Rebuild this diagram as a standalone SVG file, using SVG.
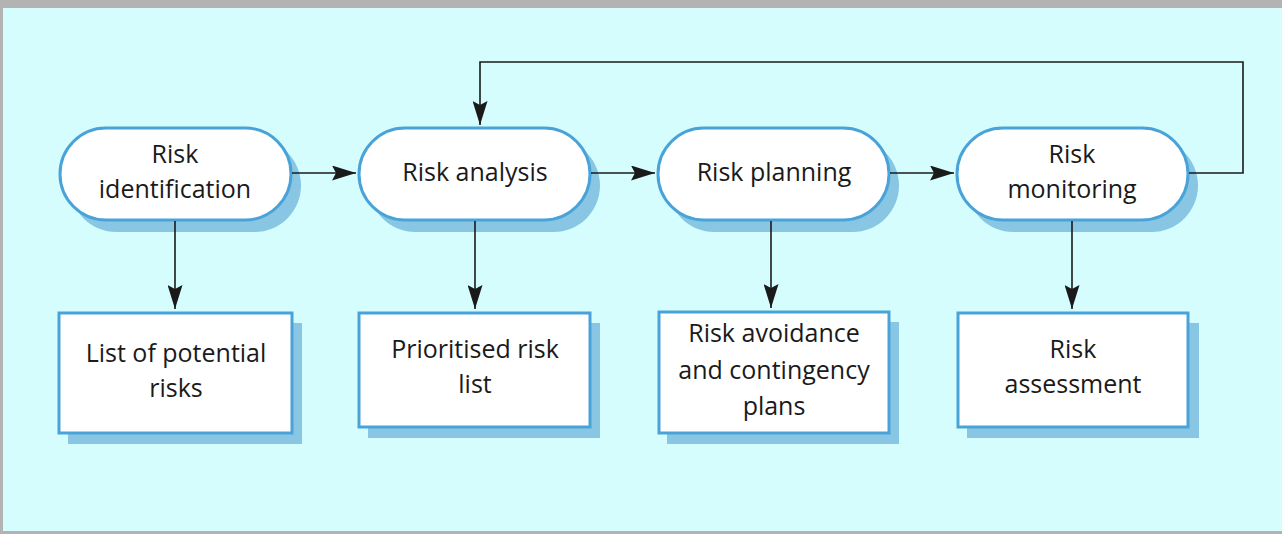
<svg xmlns="http://www.w3.org/2000/svg" width="1282" height="534" viewBox="0 0 1282 534">
<defs>
<style>
.pill{fill:#ffffff;stroke:#4aa3d8;stroke-width:3}
.box{fill:#ffffff;stroke:#4aa3d8;stroke-width:3}
.sh{fill:#88c6e4}
.t{font-family:"Open Sans","Noto Sans",sans-serif;font-size:25px;fill:#1a1a1a;text-anchor:middle}
.c{fill:none;stroke:#1a1a1a;stroke-width:1.6}
</style>
<marker id="ahb" viewBox="0 0 24 15" refX="24" refY="7.5" markerWidth="24" markerHeight="15" markerUnits="userSpaceOnUse" orient="auto">
<path d="M0,0 L24,7.5 L0,15 L4,7.5 Z" fill="#1a1a1a"/>
</marker>
</defs>
<rect x="0" y="0" width="1282" height="534" fill="#b3b3b3"/>
<rect x="3" y="8" width="1279" height="523" fill="#d5fdfd"/>

<g id="n1">
<rect class="sh" x="70" y="139" width="231" height="93" rx="46.5"/>
<rect class="pill" x="60" y="128" width="231" height="92" rx="46"/>
<text class="t" x="175" y="163">Risk</text>
<text class="t" x="175" y="198">identification</text>
</g>
<g id="n2">
<rect class="sh" x="369" y="139" width="231" height="93" rx="46.5"/>
<rect class="pill" x="359" y="128" width="231" height="92" rx="46"/>
<text class="t" x="475" y="181">Risk analysis</text>
</g>
<g id="n3">
<rect class="sh" x="668" y="139" width="231" height="93" rx="46.5"/>
<rect class="pill" x="658" y="128" width="231" height="92" rx="46"/>
<text class="t" x="774" y="181">Risk planning</text>
</g>
<g id="n4">
<rect class="sh" x="967" y="139" width="231" height="93" rx="46.5"/>
<rect class="pill" x="957" y="128" width="231" height="92" rx="46"/>
<text class="t" x="1072" y="163">Risk</text>
<text class="t" x="1072" y="198">monitoring</text>
</g>

<g id="b1">
<rect class="sh" x="68" y="323" width="234" height="121"/>
<rect class="box" x="59" y="313" width="233" height="120"/>
<text class="t" x="176" y="362">List of potential</text>
<text class="t" x="176" y="397">risks</text>
</g>
<g id="b2">
<rect class="sh" x="368" y="323" width="232" height="115"/>
<rect class="box" x="359" y="313" width="231" height="114"/>
<text class="t" x="475" y="358">Prioritised risk</text>
<text class="t" x="475" y="393">list</text>
</g>
<g id="b3">
<rect class="sh" x="667" y="322" width="232" height="122"/>
<rect class="box" x="659" y="312" width="230" height="121"/>
<text class="t" x="774" y="342">Risk avoidance</text>
<text class="t" x="774" y="379">and contingency</text>
<text class="t" x="774" y="415">plans</text>
</g>
<g id="b4">
<rect class="sh" x="967" y="323" width="232" height="115"/>
<rect class="box" x="958" y="313" width="230" height="114"/>
<text class="t" x="1073" y="358">Risk</text>
<text class="t" x="1073" y="393">assessment</text>
</g>

<g id="connectors">
<path class="c" d="M292,173 L356,173" marker-end="url(#ahb)"/>
<path class="c" d="M591,173 L655,173" marker-end="url(#ahb)"/>
<path class="c" d="M890,173 L954,173" marker-end="url(#ahb)"/>
<path class="c" d="M1189,173 L1243,173 L1243,62 L480,62 L480,125" marker-end="url(#ahb)"/>
<path class="c" d="M175,221 L175,309" marker-end="url(#ahb)"/>
<path class="c" d="M475,221 L475,309" marker-end="url(#ahb)"/>
<path class="c" d="M771,221 L771,308" marker-end="url(#ahb)"/>
<path class="c" d="M1072,221 L1072,309" marker-end="url(#ahb)"/>
</g>
</svg>
